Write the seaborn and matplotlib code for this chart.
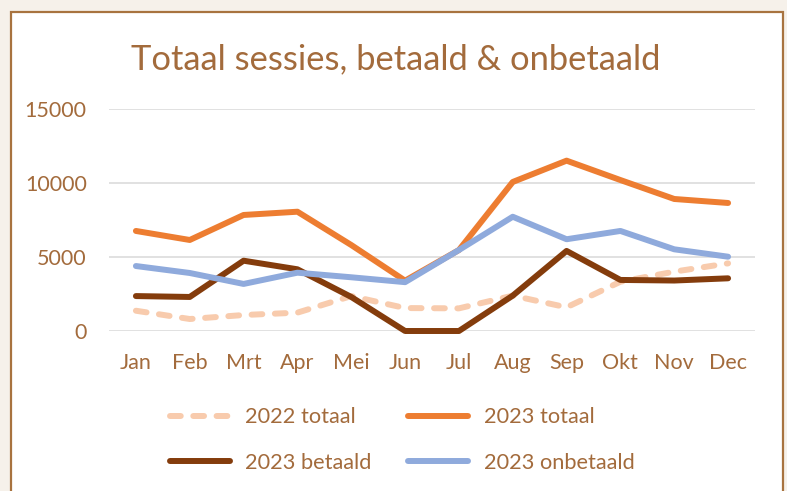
import matplotlib.pyplot as plt
import matplotlib.patches as patches
import seaborn as sns

months = ["Jan", "Feb", "Mrt", "Apr", "Mei", "Jun", "Jul", "Aug", "Sep", "Okt", "Nov", "Dec"]
totaal_2022 = [1370, 810, 1080, 1240, 2360, 1550, 1530, 2390, 1600, 3330, 4010, 4570]
totaal_2023 = [6760, 6150, 7840, 8060, 5810, 3400, 5470, 10070, 11510, 10200, 8920, 8650]
betaald_2023 = [2360, 2300, 4750, 4170, 2300, 0, 0, 2390, 5410, 3450, 3410, 3560]
onbetaald_2023 = [4390, 3920, 3180, 3940, 3630, 3300, 5470, 7720, 6200, 6760, 5520, 5020]
y_ticks = [0, 5000, 10000, 15000]

TEXT = "#a36b3c"
sns.set_theme(style="white")
plt.rcParams["font.family"] = ["Lato", "DejaVu Sans"]

fig = plt.figure(figsize=(7.87, 4.91), dpi=100)
fig.patch.set_facecolor("#f6f1ea")

# white chart panel with brown border (behind the axes)
panel = patches.Rectangle((11 / 787, -0.05), (783 - 11) / 787, 1.05 - 12 / 491,
                          transform=fig.transFigure, facecolor="white",
                          edgecolor="#a8733f", linewidth=1.6, zorder=-5)
fig.patches.append(panel)

ax = fig.add_axes([109 / 787, 1 - 331 / 491, (755 - 109) / 787, (331 - 109) / 491])
ax.set_facecolor("none")

series = [
    ("2022 totaal", totaal_2022, "#f8cbad", (1.8, 2.1)),
    ("2023 totaal", totaal_2023, "#ed7d31", None),
    ("2023 betaald", betaald_2023, "#843c0c", None),
    ("2023 onbetaald", onbetaald_2023, "#8faadc", None),
]
handles = {}
for name, vals, color, dash in series:
    sns.lineplot(x=months, y=vals, ax=ax, color=color, linewidth=4.3, sort=False, label=name)
    line = ax.lines[-1]
    line.set_solid_capstyle("round")
    line.set_dash_capstyle("round")
    line.set_solid_joinstyle("round")
    line.set_clip_on(False)
    if dash:
        line.set_dashes(dash)
    handles[name] = line
ax.get_legend().remove()

ax.set_xlim(-0.5, 11.5)
ax.set_ylim(0, 15000)
ax.set_yticks(y_ticks)
ax.set_yticklabels([str(t) for t in y_ticks])
ax.yaxis.grid(True, color="#d9d9d9", linewidth=1.1)
ax.set_axisbelow(True)
for s in ax.spines.values():
    s.set_visible(False)
ax.tick_params(axis="both", length=0, colors=TEXT, labelsize=15.5)
ax.tick_params(axis="y", pad=16)
ax.tick_params(axis="x", pad=16)
ax.set_xlabel("")
ax.set_ylabel("")

fig.text(396 / 787, 1 - 69 / 491, "Totaal sessies, betaald & onbetaald",
         ha="center", va="baseline", color=TEXT, fontsize=24.8)

order = ["2022 totaal", "2023 betaald", "2023 totaal", "2023 onbetaald"]
leg = fig.legend([handles[n] for n in order], order, loc="center", ncol=2,
                 bbox_to_anchor=(402 / 787, 1 - 440 / 491), frameon=False,
                 fontsize=15.7, handlelength=2.75, handletextpad=0.7,
                 columnspacing=1.7, labelspacing=1.15)
for t in leg.get_texts():
    t.set_color(TEXT)

fig.savefig("out.png", dpi=100, facecolor=fig.get_facecolor())
